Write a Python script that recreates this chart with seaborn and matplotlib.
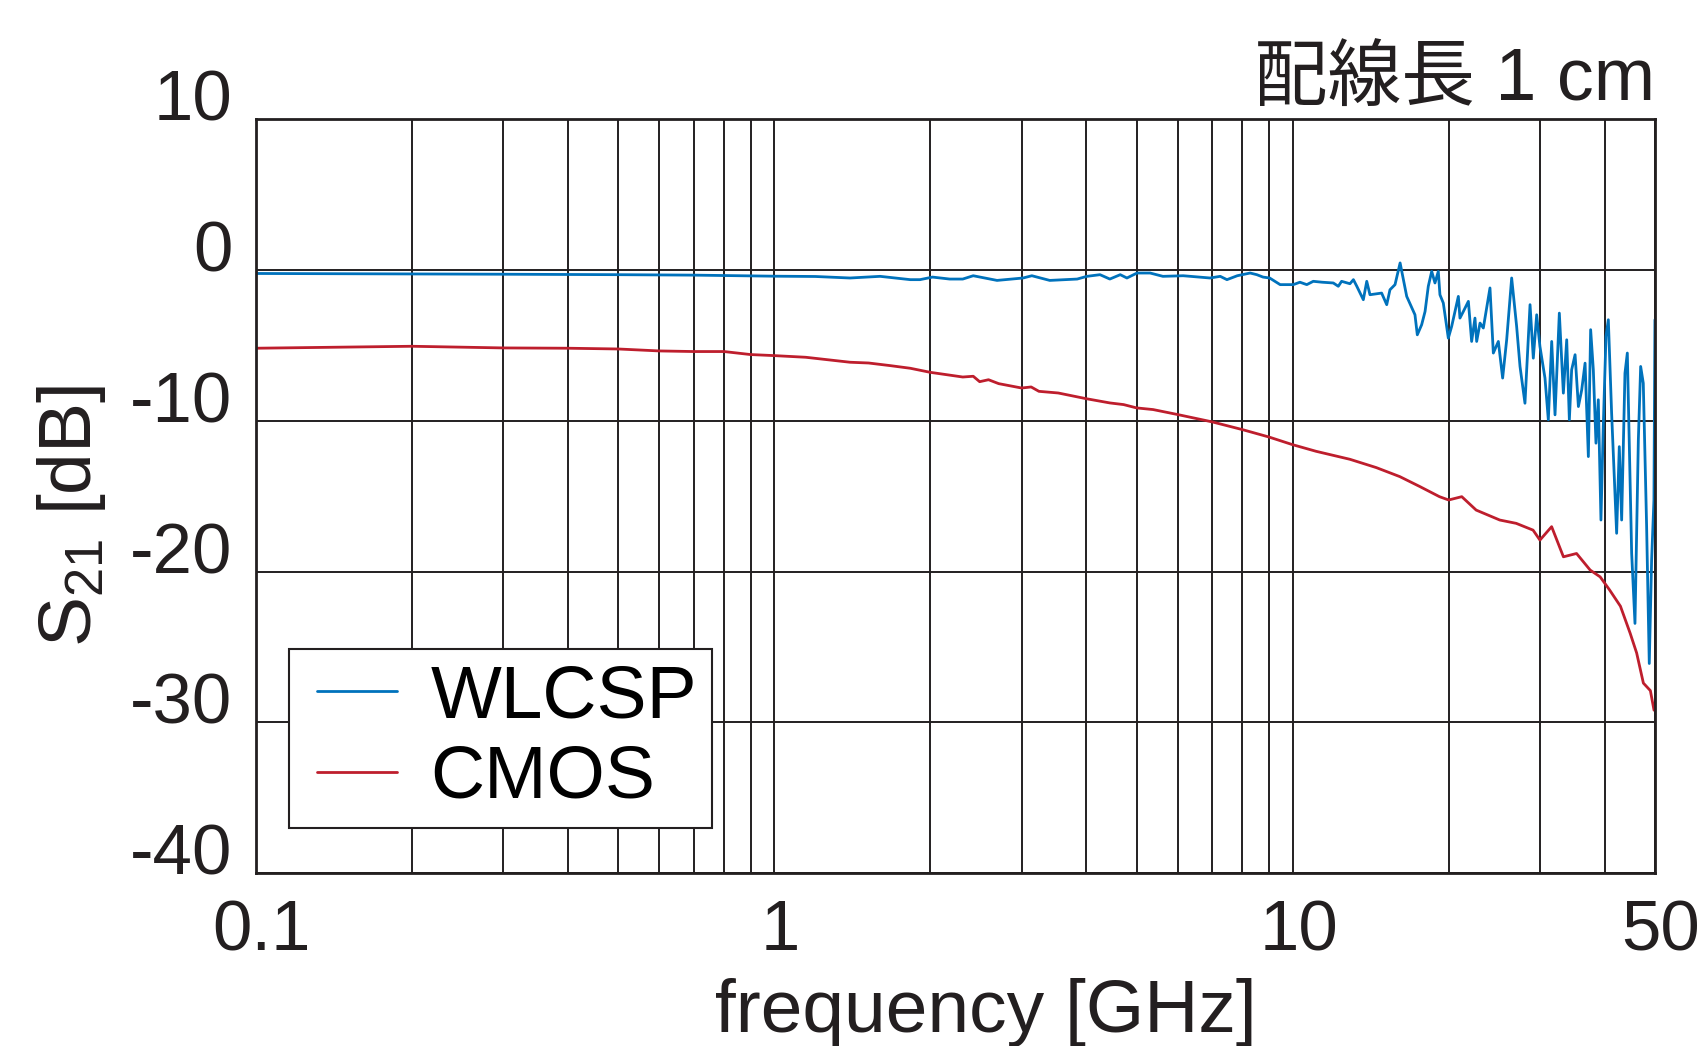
import pandas as pd
import seaborn as sns
import matplotlib.pyplot as plt
from matplotlib.transforms import ScaledTranslation
from matplotlib.legend_handler import HandlerLine2D

# ------------------------------------------------------------
# Data (S21 vs frequency, 1 cm line)
# ------------------------------------------------------------

wlcsp_freq = [0.1, 0.2, 0.3, 0.5, 0.7, 0.9, 1.0, 1.2, 1.40, 1.60, 1.83, 1.91,
              2.02, 2.18, 2.31, 2.42, 2.69, 3.02, 3.14, 3.40, 3.84, 4.01, 4.25,
              4.44, 4.65, 4.79, 5.01, 5.31, 5.62, 6.15, 6.93, 7.25, 7.47, 7.82,
              8.28, 8.53, 8.77, 9.03, 9.46, 10.03, 10.33, 10.65, 10.96, 11.40,
              11.98, 12.25, 12.43, 12.90, 13.10, 13.30, 13.69, 13.90, 14.10,
              14.85, 15.19, 15.41, 15.76, 16.12, 16.60, 17.22, 17.40, 17.74,
              18.01, 18.27, 18.55, 18.82, 19.10, 19.24, 19.53, 19.97, 20.27,
              20.88, 21.03, 21.35, 21.83, 22.15, 22.48, 22.65, 22.99, 23.33,
              24.03, 24.39, 24.94, 25.42, 25.88, 26.46, 27.05, 27.46, 28.07,
              28.71, 29.13, 29.57, 30.00, 30.68, 31.14, 31.61, 32.08, 32.70,
              33.29, 33.79, 34.19, 34.54, 35.07, 35.59, 36.12, 36.66, 37.20,
              37.58, 38.03, 38.48, 38.88, 39.34, 39.75, 40.23, 40.65, 41.25,
              42.18, 42.68, 43.13, 43.77, 44.23, 45.09, 45.76, 46.45, 46.93,
              47.48, 48.19, 48.76, 49.27, 49.78, 50.0]
wlcsp_s21 = [-0.22, -0.25, -0.27, -0.30, -0.33, -0.38, -0.40, -0.42, -0.52,
             -0.41, -0.63, -0.63, -0.46, -0.59, -0.59, -0.37, -0.68, -0.52,
             -0.37, -0.68, -0.59, -0.41, -0.30, -0.59, -0.30, -0.52, -0.19,
             -0.19, -0.41, -0.37, -0.52, -0.41, -0.63, -0.37, -0.19, -0.30,
             -0.46, -0.52, -0.96, -0.96, -0.80, -0.96, -0.74, -0.80, -0.85,
             -1.07, -0.74, -0.90, -0.63, -1.07, -1.96, -0.74, -1.63, -1.52,
             -2.29, -1.30, -0.96, 0.48, -1.74, -2.96, -4.29, -3.62, -2.74,
             -1.07, -0.08, -0.85, -0.08, -1.63, -2.18, -4.51, -3.73, -1.74,
             -3.18, -2.74, -2.07, -4.73, -3.18, -4.73, -3.51, -3.84, -1.18,
             -5.50, -4.73, -7.16, -4.62, -0.52, -3.73, -6.39, -8.83, -2.29,
             -5.84, -2.96, -5.06, -7.16, -9.93, -4.73, -9.60, -2.85, -8.16,
             -4.62, -9.93, -6.61, -5.61, -9.05, -7.94, -6.17, -12.37, -3.95,
             -6.61, -11.48, -8.60, -16.58, -10.38, -4.40, -3.29, -9.49, -17.46,
             -11.71, -16.58, -6.83, -5.50, -18.79, -23.44, -11.26, -6.39,
             -7.50, -17.02, -26.10, -19.24, -15.25, -3.29]

cmos_freq = [0.1, 0.2, 0.3, 0.4, 0.5, 0.6, 0.7, 0.8, 0.9, 1.0, 1.15, 1.40,
             1.52, 1.67, 1.83, 2.0, 2.31, 2.42, 2.49, 2.59, 2.71, 3.0, 3.13,
             3.24, 3.53, 4.0, 4.44, 4.72, 5.0, 5.38, 6.0, 7.0, 8.0, 9.0, 10.0,
             11.1, 12.9, 14.5, 16.1, 17.6, 19.2, 20.0, 21.2, 22.6, 25.1, 27.0,
             29.1, 30.0, 31.6, 33.3, 35.3, 37.5, 39.2, 40.9, 42.9, 44.8, 46.1,
             47.5, 49.0, 49.8]
cmos_s21 = [-5.18, -5.05, -5.16, -5.18, -5.23, -5.36, -5.40, -5.40, -5.60,
            -5.67, -5.78, -6.11, -6.16, -6.33, -6.51, -6.78, -7.09, -7.04,
            -7.40, -7.27, -7.53, -7.82, -7.75, -8.04, -8.15, -8.53, -8.81,
            -8.92, -9.14, -9.25, -9.58, -10.07, -10.58, -11.07, -11.58, -12.02,
            -12.55, -13.1, -13.70, -14.36, -15.03, -15.25, -15.03, -15.92,
            -16.58, -16.80, -17.25, -17.91, -17.02, -19.02, -18.80, -19.90,
            -20.35, -21.23, -22.30, -24.10, -25.40, -27.40, -27.90, -29.20]

series_names = ["WLCSP", "CMOS"]
series_colors = ["#0072BC", "#BE1E2D"]

xtick_vals = [0.1, 1, 10, 50]
xtick_labels = ["0.1", "1", "10", "50"]
xminor_vals = [0.2, 0.3, 0.4, 0.5, 0.6, 0.7, 0.8, 0.9,
               2, 3, 4, 5, 6, 7, 8, 9, 20, 30, 40]
ytick_vals = [-40, -30, -20, -10, 0, 10]
ytick_labels = ["-40", "-30", "-20", "-10", "0", "10"]

df = pd.concat([
    pd.DataFrame({"freq": wlcsp_freq, "s21": wlcsp_s21, "series": "WLCSP"}),
    pd.DataFrame({"freq": cmos_freq, "s21": cmos_s21, "series": "CMOS"}),
], ignore_index=True)


# legend line that starts a little way in from the frame
class InsetLine(HandlerLine2D):
    def get_xdata(self, legend, xdescent, ydescent, width, height, fontsize):
        x0 = -xdescent + 0.17 * fontsize
        return [x0, -xdescent + width], [x0, -xdescent + width]


# ------------------------------------------------------------
# Plot
# ------------------------------------------------------------

sns.set_style("white")
plt.rcParams["font.family"] = ["Liberation Sans", "Noto Sans CJK JP", "DejaVu Sans"]
plt.rcParams["mathtext.fontset"] = "custom"
plt.rcParams["mathtext.rm"] = "Liberation Sans"
plt.rcParams["axes.unicode_minus"] = False

ink = "#231F20"
fs = 54
tick_fs = 51

fig = plt.figure(figsize=(17.04, 10.46), dpi=100)
ax = fig.add_axes([0.1502, 0.1654, 0.8210, 0.7204])

sns.lineplot(data=df, x="freq", y="s21", hue="series", hue_order=series_names,
             palette=series_colors, estimator=None, linewidth=2.0, ax=ax,
             legend=True)

ax.set_xscale("log")
ax.set_xlim(0.1, 50)
ax.set_ylim(-40, 10)
ax.set_xticks(xtick_vals)
ax.set_xticklabels(xtick_labels)
ax.set_xticks(xminor_vals, minor=True)
ax.set_xticklabels([], minor=True)
ax.set_yticks(ytick_vals)
ax.set_yticklabels(ytick_labels)

ax.grid(True, which="both", axis="x", color=ink, linewidth=1.4)
ax.grid(True, which="major", axis="y", color=ink, linewidth=1.4)
for s in ax.spines.values():
    s.set_color(ink)
    s.set_linewidth(2.0)
    s.set_visible(True)

ax.tick_params(axis="both", which="both", length=0, labelsize=tick_fs, colors=ink)
ax.tick_params(axis="x", pad=19)
ax.tick_params(axis="y", pad=17)

# labels sit a bit above / right of their gridlines in the original
for lab in ax.get_yticklabels():
    lab.set_transform(lab.get_transform() + ScaledTranslation(0, 0.24, fig.dpi_scale_trans))
for lab in ax.get_xticklabels():
    lab.set_transform(lab.get_transform() + ScaledTranslation(0.06, 0, fig.dpi_scale_trans))

ax.set_xlabel("frequency [GHz]", fontsize=fs, color=ink)
ax.xaxis.set_label_coords(0.522, -0.139)
ax.set_ylabel(r"S$_\mathregular{21}$ [dB]", fontsize=fs, color=ink)
ax.yaxis.set_label_coords(-0.1054, 0.474)

ax.set_title("配線長 1 cm", loc="right", fontsize=53, color=ink, pad=14)

handles, labels = ax.get_legend_handles_labels()
leg = ax.legend(handles, labels, loc="lower left", bbox_to_anchor=(0.0236, 0.060),
                borderaxespad=0, fontsize=fs, frameon=True, fancybox=False,
                framealpha=1, edgecolor=ink, handlelength=1.24,
                handletextpad=0.45, labelspacing=0.15, borderpad=0.2,
                handler_map={h: InsetLine() for h in handles})
leg.get_frame().set_linewidth(1.5)
for t in leg.get_texts():
    t.set_color("black")

fig.savefig("out.png", dpi=100, facecolor="white")
